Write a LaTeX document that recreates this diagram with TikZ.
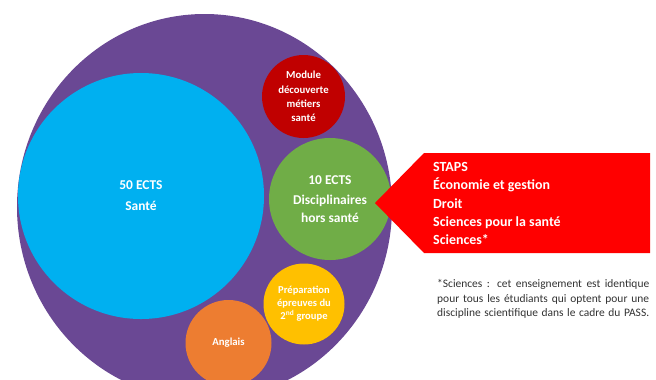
\documentclass[tikz,border=0pt]{standalone}
\usepackage{fontspec}
\setmainfont{Carlito}
\usetikzlibrary{shapes.geometric}
\definecolor{purp}{RGB}{106,72,148}
\definecolor{sky}{RGB}{0,176,240}
\definecolor{darkred}{RGB}{192,0,0}
\definecolor{leaf}{RGB}{112,173,71}
\definecolor{gold}{RGB}{255,192,0}
\definecolor{tang}{RGB}{237,125,49}
\definecolor{arrowred}{RGB}{255,0,0}
\definecolor{notegray}{RGB}{50,50,50}
\newcommand{\fullline}[1]{\makebox[212bp][s]{#1}}
\begin{document}
\begin{tikzpicture}[x=1bp,y=-1bp,
  bubble/.style={circle, inner sep=0pt, text=white, align=center},
  bigtxt/.style={font=\bfseries\fontsize{13.5}{21}\selectfont},
  smalltxt/.style={font=\bfseries\fontsize{10.8}{14.3}\selectfont}
]
\useasboundingbox (0,0) rectangle (656,379);
\clip (0,0) rectangle (656,379);
\node[ellipse, fill=purp, minimum width=375bp, minimum height=386bp, inner sep=0pt] (outer) at (204.5,207) {};
\node[bubble, bigtxt, fill=sky, minimum size=246bp] (sante) at (141,196) {50 ECTS\\Santé};
\node[bubble, smalltxt, fill=darkred, minimum size=83bp] (module) at (303.5,96.5) {Module\\découverte\\métiers\\santé};
\node[bubble, fill=leaf, minimum size=122bp, font=\bfseries\fontsize{13.5}{17.5}\selectfont] (disc) at (330,199) {10 ECTS\\[3bp]Disciplinaires\\hors santé};
\node[bubble, fill=gold, minimum size=81bp, font=\bfseries\fontsize{10.6}{13}\selectfont] (prep) at (304,304) {Préparation\\épreuves du\\2\textsuperscript{nd} groupe};
\node[bubble, smalltxt, fill=tang, minimum size=86bp] (anglais) at (228.5,343) {Anglais};
\fill[arrowred] (375,203) -- (424,153) -- (650,153) -- (650,253) -- (424,253) -- cycle;
\node[anchor=west, inner sep=0pt, align=left, text=white, font=\bfseries\fontsize{14}{18.3}\selectfont] (list) at (433,203.5)
  {STAPS\\Économie et gestion\\Droit\\Sciences pour la santé\\Sciences*};
\node[anchor=west, inner sep=0pt, align=left, text=notegray, font=\fontsize{11.5}{14.3}\selectfont] (note) at (437,299)
  {\fullline{*Sciences : cet enseignement est identique}\\
   \fullline{pour tous les étudiants qui optent pour une}\\
   \fullline{discipline scientifique dans le cadre du PASS.}};
\end{tikzpicture}
\end{document}
